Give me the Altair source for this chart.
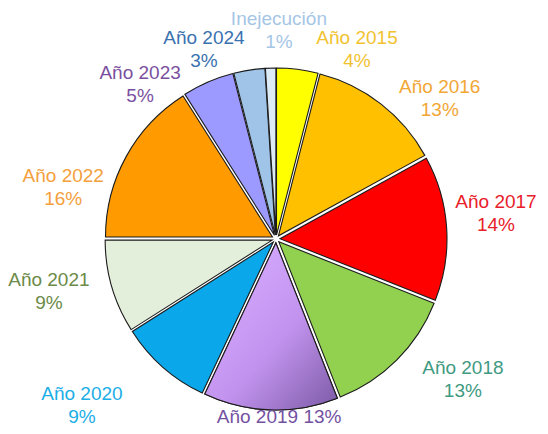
import altair as alt
import pandas as pd

# ---- data ----
categories = ["Año 2015", "Año 2016", "Año 2017", "Año 2018", "Año 2019", "Año 2020",
              "Año 2021", "Año 2022", "Año 2023", "Año 2024", "Inejecución"]
values = [4, 13, 14, 13, 13, 9, 9, 16, 5, 3, 1]
pct_labels = ["4%", "13%", "14%", "13%", "13%", "9%", "9%", "16%", "5%", "3%", "1%"]

# ---- styles / layout ----
slice_colors = ["#FFFF00", "#FFC000", "#FF0000", "#92D050", "#C79CF2", "#0AA8EA",
                "#E3EEDB", "#FF9A00", "#9C9AFF", "#9FC4E8", "#DDEBF7"]
label_colors = ["#F2C230", "#F2A634", "#E8202A", "#3F9A82", "#7452A2", "#1CAEE6",
                "#6C8A48", "#F4A03C", "#7A4FA0", "#3A72B0", "#A6C6E6"]
label_nudge_deg = [15.9, 11.5, -2.9, -8, -2.8, 7.9, 3.3, -15.1, -18, -11.8, 2.6]
label_radius = [206.5, 216, 221.4, 234, 178, 256, 233, 219, 205.5, 203, 209]
single_line = {"Año 2019"}
LINE_H = 23

CX, CY = 268, 231       # pie centre inside the view
R = 167                 # pie radius
EXPLODE = 4             # slice explosion

texts = [f"{c} {p}" if c in single_line else f"{c}\n{p}" for c, p in zip(categories, pct_labels)]

df = pd.DataFrame({
    "cat": categories,
    "v": values,
    "idx": list(range(len(categories))),
    "txt": texts,
    "nl": [t.count("\n") + 1 for t in texts],
    "nudge": label_nudge_deg,
    "lr": label_radius,
})

base = alt.Chart(df).transform_window(
    cum="sum(v)", sort=[alt.SortField("idx")], frame=[None, 0]
).transform_joinaggregate(
    total="sum(v)"
).transform_calculate(
    mid="(datum.cum - datum.v / 2) / datum.total * 2 * PI",
    px=f"{CX} + {EXPLODE} * sin(datum.mid)",
    py=f"{CY} - {EXPLODE} * cos(datum.mid)",
    la="datum.mid + datum.nudge * PI / 180",
    lx=f"{CX} + datum.lr * sin(datum.la)",
    ly=f"{CY} - datum.lr * cos(datum.la) - (datum.nl - 1) * {LINE_H} / 2",
)

arcs = base.mark_arc(outerRadius=R, stroke="#1b1b1b", strokeWidth=1.1).encode(
    theta=alt.Theta("v:Q", stack=True),
    order=alt.Order("idx:Q"),
    x=alt.X("px:Q", scale=None),
    y=alt.Y("py:Q", scale=None),
    color=alt.Color("cat:N", scale=alt.Scale(domain=categories, range=slice_colors), legend=None),
)

grad = alt.LinearGradient(
    gradient="linear",
    stops=[alt.GradientStop(color="#D6AAFF", offset=0),
           alt.GradientStop(color="#C293EE", offset=0.5),
           alt.GradientStop(color="#7C5AA6", offset=1)],
    x1=0.2, x2=1, y1=0.1, y2=1,
)
arc_2019 = base.mark_arc(outerRadius=R, stroke="#1b1b1b", strokeWidth=1.1, fill=grad).encode(
    theta=alt.Theta("v:Q", stack=True),
    order=alt.Order("idx:Q"),
    x=alt.X("px:Q", scale=None),
    y=alt.Y("py:Q", scale=None),
    opacity=alt.condition(alt.datum.cat == "Año 2019", alt.value(1), alt.value(0)),
)

labels = base.mark_text(font="Liberation Sans", fontSize=19, lineBreak="\n", lineHeight=LINE_H,
                        align="center", baseline="middle").encode(
    x=alt.X("lx:Q", scale=None),
    y=alt.Y("ly:Q", scale=None),
    text="txt:N",
    color=alt.Color("cat:N", scale=alt.Scale(domain=categories, range=label_colors), legend=None),
)

chart = alt.layer(arcs, arc_2019, labels).resolve_scale(color="independent").properties(
    width=532, height=418, padding=0, autosize=alt.AutoSizeParams(type="none")
).configure_view(stroke=None)

chart.save("out.html", embed_options={"renderer": "svg", "actions": False})
